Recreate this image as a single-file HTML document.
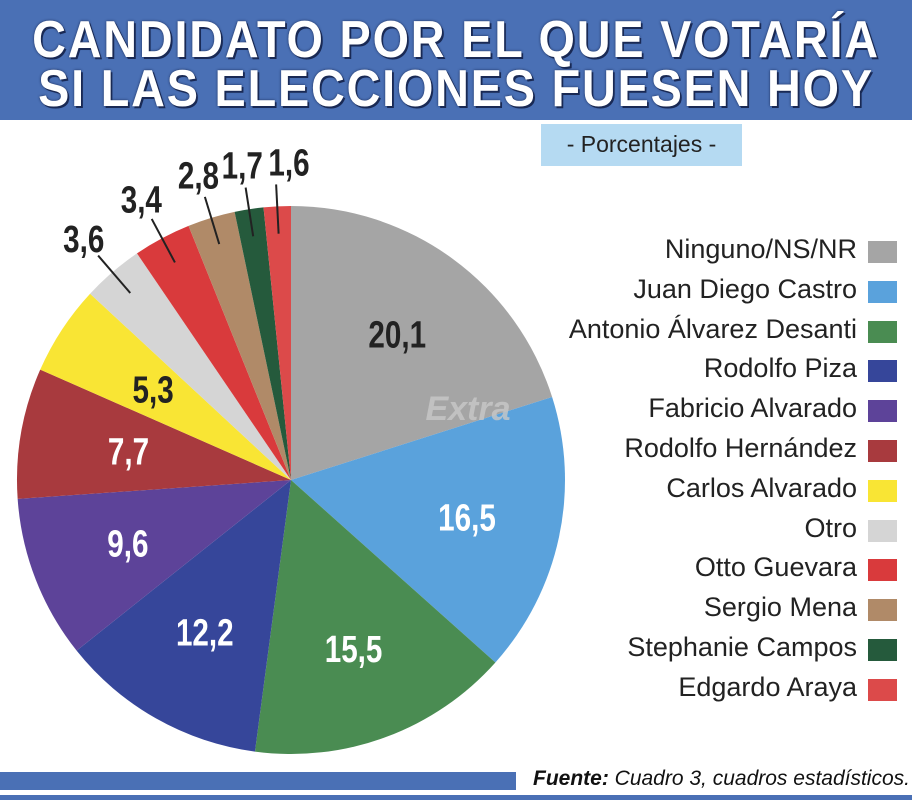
<!DOCTYPE html>
<html><head><meta charset="utf-8">
<style>
body{margin:0;width:912px;height:800px;background:#fff;overflow:hidden;position:relative;font-family:"Liberation Sans",sans-serif}
#hdr{position:absolute;left:0;top:0;width:912px;height:120px;background:#4a70b5}
.t{position:absolute;left:-100px;width:1112px;white-space:nowrap;text-align:center;color:#fff;font-weight:bold;font-size:52px;letter-spacing:2px;transform:scaleX(0.9);transform-origin:center;text-shadow:0 0 3px #1a2a55,2px 2px 0 #1a2a55;line-height:52px}
#sub{position:absolute;left:541px;top:124px;width:201px;height:42px;background:#b5daf2;color:#222;font-size:23px;line-height:40px;text-align:center}
.leg{position:absolute;right:55px;font-size:27px;color:#222;text-align:right;white-space:nowrap}
.sw{position:absolute;left:868px;width:29px;height:22px}
#b1{position:absolute;left:0;top:772px;width:516px;height:18px;background:#4a70b5}
#b2{position:absolute;left:0;top:795px;width:912px;height:5px;background:#4a70b5}
#src{position:absolute;right:2px;top:767px;font-size:21px;color:#111;font-style:italic;white-space:nowrap}
</style></head><body>
<div id="hdr"></div>
<div class="t" style="top:14px">CANDIDATO POR EL QUE VOTARÍA</div>
<div class="t" style="top:63px">SI LAS ELECCIONES FUESEN HOY</div>
<div id="sub">- Porcentajes -</div>
<svg id="pie" width="912" height="800" style="position:absolute;left:0;top:0"></svg>
<div id="legend"></div>
<div id="b1"></div>
<div id="b2"></div>
<div id="src"><b>Fuente:</b> Cuadro 3, cuadros estadísticos.</div>
<script>
const categories=["Ninguno/NS/NR","Juan Diego Castro","Antonio Álvarez Desanti","Rodolfo Piza","Fabricio Alvarado","Rodolfo Hernández","Carlos Alvarado","Otro","Otto Guevara","Sergio Mena","Stephanie Campos","Edgardo Araya"];
const values=[20.1,16.5,15.5,12.2,9.6,7.7,5.3,3.6,3.4,2.8,1.7,1.6];
const valueLabels=["20,1","16,5","15,5","12,2","9,6","7,7","5,3","3,6","3,4","2,8","1,7","1,6"];
const colors=["#a5a5a5","#5aa2dc","#4a8c52","#36469a","#5d4399","#a83a3e","#f9e534","#d5d5d5","#d93a3c","#b08a68","#255a3c","#dc4a4a"];
const labelColors=["#222","#fff","#fff","#fff","#fff","#fff","#222","#222","#222","#222","#222","#222"];
const NS="http://www.w3.org/2000/svg";
const svg=document.getElementById('pie');
const cx=291,cy=480,R=274;
const total=values.reduce((a,b)=>a+b,0);
function pt(a,r){return [cx+r*Math.sin(a),cy-r*Math.cos(a)];}
let acc=0;
values.forEach((v,i)=>{
  const a0=acc/total*2*Math.PI; acc+=v; const a1=acc/total*2*Math.PI;
  const p0=pt(a0,R),p1=pt(a1,R);
  const p=document.createElementNS(NS,'path');
  p.setAttribute('d',`M${cx},${cy}L${p0[0]},${p0[1]}A${R},${R} 0 ${a1-a0>Math.PI?1:0} 1 ${p1[0]},${p1[1]}Z`);
  p.setAttribute('fill',colors[i]);
  
  
  svg.appendChild(p);
  const am=(a0+a1)/2, outside=v<4;
  const lr=outside?318:(v>15?180:(v>9?175:165));
  const lp=pt(am,lr);
  if(outside){
    if(i===values.length-1) lp[0]+=14;
    const l1=pt(am,R*0.9),l2=pt(am,R*1.08);
    const ln=document.createElementNS(NS,'line');
    ln.setAttribute('x1',l1[0]);ln.setAttribute('y1',l1[1]);ln.setAttribute('x2',l2[0]);ln.setAttribute('y2',l2[1]);
    ln.setAttribute('stroke','#222');ln.setAttribute('stroke-width','2');
    
    
    svg.appendChild(ln);
  }
  const t=document.createElementNS(NS,'text');
  t.setAttribute('x',lp[0]);t.setAttribute('y',lp[1]+13);
  t.setAttribute('text-anchor','middle');t.setAttribute('font-size','38');t.setAttribute('font-weight','bold');
  t.setAttribute('font-family','Liberation Sans, sans-serif');t.setAttribute('fill',labelColors[i]);
  t.setAttribute('transform',`translate(${lp[0]},0) scale(0.78,1) translate(${-lp[0]},0)`);
  t.textContent=valueLabels[i];
  
  
  svg.appendChild(t);
});
const wm=document.createElementNS(NS,'text');
wm.setAttribute('x',468);wm.setAttribute('y',420);wm.setAttribute('text-anchor','middle');
wm.setAttribute('font-size','34');wm.setAttribute('font-style','italic');wm.setAttribute('font-weight','bold');
wm.setAttribute('fill','#c8c8c8');wm.setAttribute('opacity','0.8');wm.textContent='Extra';


svg.appendChild(wm);
const leg=document.getElementById('legend');
categories.forEach((c,i)=>{
  const y=238+i*39.8;
  const d=document.createElement('div');d.className='leg';d.style.top=(y-4)+'px';d.textContent=c;
  
  
  leg.appendChild(d);
  const s=document.createElement('div');s.className='sw';s.style.top=(y+3)+'px';s.style.background=colors[i];
  
  
  leg.appendChild(s);
});
</script>
</body></html>
